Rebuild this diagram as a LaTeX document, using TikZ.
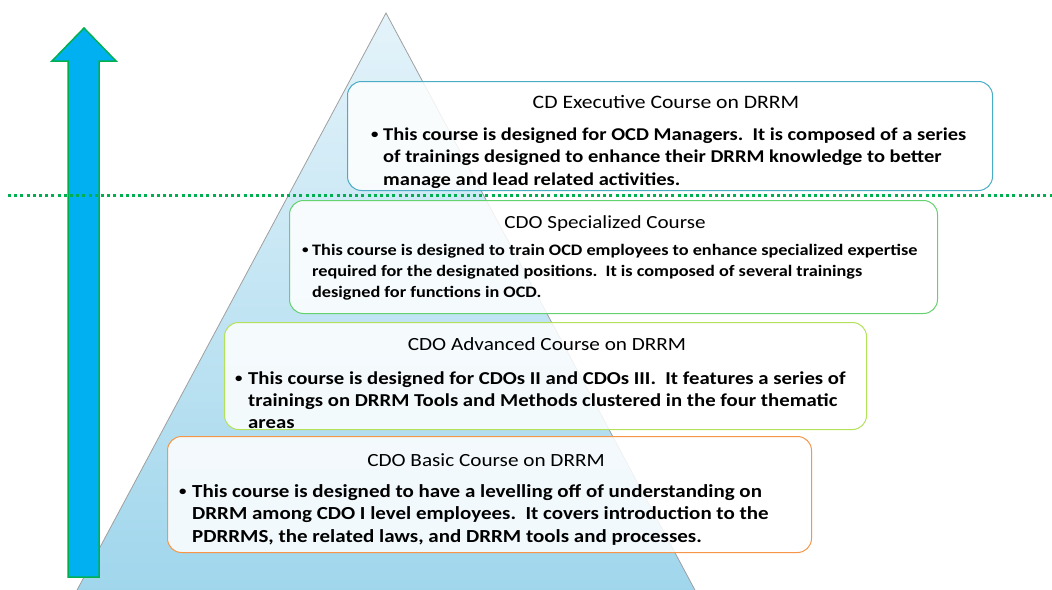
\documentclass[tikz,border=0pt]{standalone}
\usepackage{fontspec}
\setmainfont{Carlito}[FakeStretch=1.14]
\definecolor{arrowblue}{RGB}{0,176,240}
\definecolor{arrowgreen}{RGB}{0,176,80}
\definecolor{trtop}{RGB}{228,243,250}
\definecolor{trbot}{RGB}{160,214,236}
\definecolor{bcA}{RGB}{75,172,198}
\definecolor{bcB}{RGB}{100,210,110}
\definecolor{bcC}{RGB}{180,225,90}
\definecolor{bcD}{RGB}{247,150,70}
\tikzset{
  lvl/.style={draw=#1, line width=1pt, rounded corners=14pt, fill=white, fill opacity=0.85, anchor=north west, inner sep=0pt},
  ttl/.style={anchor=base, inner sep=0pt, font=\fontsize{#1}{22}\selectfont},
  txt/.style={anchor=base west, inner sep=0pt, font=\bfseries\fontsize{#1}{22}\selectfont},
  bul/.style={anchor=base west, inner sep=0pt, font=\bfseries\fontsize{#1}{16}\selectfont}
}
\begin{document}
\begin{tikzpicture}[x=1pt,y=-1pt]
\useasboundingbox (0,0) rectangle (1052,589);
% pyramid
\shade[top color=trtop, bottom color=trbot] (386,13) -- (76,592) -- (696,592) -- cycle;
\draw[gray!75, line width=0.8pt] (76,592) -- (386,13) -- (696,592);
% arrow
\draw[arrowgreen, line width=1.5pt, fill=arrowblue, line join=miter]
  (68,577) -- (68,61) -- (52,61) -- (84,28) -- (116,61) -- (99,61) -- (99,577) -- cycle;
% dotted line
\draw[arrowgreen, line width=3pt, dash pattern=on 3pt off 3.2pt] (8,195) -- (1052,195);
% boxes
\node[lvl=bcA, minimum width=645pt, minimum height=109pt] (b1) at (347,81) {};
\node[lvl=bcB, minimum width=648pt, minimum height=113pt] (b2) at (289,200) {};
\node[lvl=bcC, minimum width=642pt, minimum height=107pt] (b3) at (224,322) {};
\node[lvl=bcD, minimum width=644pt, minimum height=116pt] (b4) at (167,436) {};
% box 1
\node[ttl=19] (t1) at (666,108) {CD Executive Course on DRRM};
\node[bul=13] (u1) at (371,138.5) {•};
\node[txt=18] (l11) at (383,140) {This course is designed for OCD Managers.\ \ It is composed of a series};
\node[txt=18] (l12) at (383,162.5) {of trainings designed to enhance their DRRM knowledge to better};
\node[txt=18] (l13) at (383,185) {manage and lead related activities.};
% box 2
\node[ttl=18.5] (t2) at (605,228) {CDO Specialized Course};
\node[bul=11.5] (u2) at (302,253.5) {•};
\node[txt=16] (l21) at (312,255) {This course is designed to train OCD employees to enhance specialized expertise};
\node[txt=16] (l22) at (312,276) {required for the designated positions.\ \ It is composed of several trainings};
\node[txt=16] (l23) at (312,297) {designed for functions in OCD.};
% box 3
\node[ttl=18.6] (t3) at (547,350) {CDO Advanced Course on DRRM};
\node[bul=13] (u3) at (235,382.5) {•};
\node[txt=18.2] (l31) at (248,384) {This course is designed for CDOs II and CDOs III.\ \ It features a series of};
\node[txt=18.2] (l32) at (248,406) {trainings on DRRM Tools and Methods clustered in the four thematic};
\node[txt=18.2] (l33) at (248,428.5) {areas};
% box 4
\node[ttl=18.6] (t4) at (486,466) {CDO Basic Course on DRRM};
\node[bul=13] (u4) at (179,495.5) {•};
\node[txt=18.4] (l41) at (192,497) {This course is designed to have a levelling off of understanding on};
\node[txt=18.4] (l42) at (192,519.5) {DRRM among CDO I level employees.\ \ It covers introduction to the};
\node[txt=18.4] (l43) at (192,542) {PDRRMS, the related laws, and DRRM tools and processes.};
\end{tikzpicture}
\end{document}
